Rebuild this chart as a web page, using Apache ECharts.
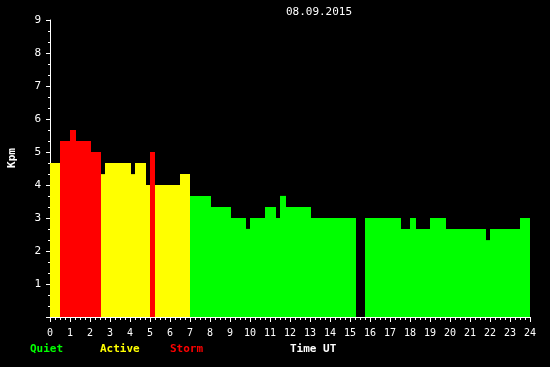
<!DOCTYPE html>
<html>
<head>
<meta charset="utf-8">
<script src="https://cdn.jsdelivr.net/npm/echarts@6/dist/echarts.min.js"></script>
<style>
html,body{margin:0;padding:0;background:#000;}
#c{width:550px;height:367px;}
</style>
</head>
<body>
<div id="c"></div>
<script>
// Kp segments (hours UT) and values
const segStart = [0, 0.5, 1.0, 1.3, 2.05, 2.55, 2.75, 4.05, 4.25, 4.8, 5.0, 5.25, 6.5,
  7.0, 8.05, 9.05, 9.8, 10.0, 10.75, 11.3, 11.5, 11.8, 13.05,
  15.75, 17.55, 18.0, 18.3, 19.0, 19.8, 21.8, 22.0, 23.5];
const segEnd = [0.5, 1.0, 1.3, 2.05, 2.55, 2.75, 4.05, 4.25, 4.8, 5.0, 5.25, 6.5, 7.0,
  8.05, 9.05, 9.8, 10.0, 10.75, 11.3, 11.5, 11.8, 13.05, 15.3,
  17.55, 18.0, 18.3, 19.0, 19.8, 21.8, 22.0, 23.5, 24.0];
const kpValues = [4.67, 5.33, 5.67, 5.33, 5.0, 4.33, 4.67, 4.33, 4.67, 4.0, 5.0, 4.0, 4.33,
  3.67, 3.33, 3.0, 2.67, 3.0, 3.33, 3.0, 3.67, 3.33, 3.0,
  3.0, 2.67, 3.0, 2.67, 3.0, 2.67, 2.33, 2.67, 3.0];
const titleText = '08.09.2015';
const legendNames = ['Quiet', 'Active', 'Storm'];
const legendColors = ['#00ff00', '#ffff00', '#ff0000'];

const data = segStart.map((s, i) => [s, segEnd[i], kpValues[i]]);
function kpColor(v) { return v >= 5 ? legendColors[2] : (v >= 4 ? legendColors[1] : legendColors[0]); }

const chart = echarts.init(document.getElementById('c'), null, {renderer: 'canvas'});
const mono = '"DejaVu Sans Mono", monospace';
chart.setOption({
  animation: false,
  backgroundColor: '#000',
  grid: {left: 50, right: 20, top: 20, bottom: 50},
  xAxis: {
    type: 'value', min: 0, max: 24, interval: 1,
    axisLine: {show: true, lineStyle: {color: '#fff', width: 1}},
    axisTick: {show: true, length: 5, lineStyle: {color: '#fff'}},
    minorTick: {show: true, splitNumber: 4, length: 3, lineStyle: {color: '#fff'}},
    splitLine: {show: false},
    axisLabel: {color: '#fff', fontFamily: mono, fontSize: 10, margin: 11}
  },
  yAxis: {
    type: 'value', min: 0, max: 9, interval: 1,
    axisLine: {show: true, lineStyle: {color: '#fff', width: 1}},
    axisTick: {show: true, length: 4, lineStyle: {color: '#fff'}},
    minorTick: {show: true, splitNumber: 3, length: 2, lineStyle: {color: '#fff'}},
    splitLine: {show: false},
    axisLabel: {color: '#fff', fontFamily: mono, fontSize: 11, margin: 9, showMinLabel: false}
  },
  series: [{
    type: 'custom',
    data: data,
    encode: {x: [0, 1], y: 2},
    renderItem: function (params, api) {
      const p0 = api.coord([api.value(0), api.value(2)]);
      const p1 = api.coord([api.value(1), 0]);
      return {
        type: 'rect',
        shape: {x: p0[0], y: p0[1], width: p1[0] - p0[0], height: p1[1] - p0[1]},
        style: {fill: kpColor(api.value(2))}
      };
    }
  }],
  graphic: [
    {type: 'text', x: 319, y: 12, style: {text: titleText, fill: '#fff', font: '11px ' + mono, textAlign: 'center', textVerticalAlign: 'middle'}},
    {type: 'text', x: 12, y: 158, rotation: Math.PI / 2, style: {text: 'Kpm', fill: '#fff', font: 'bold 11px ' + mono, textAlign: 'center', textVerticalAlign: 'middle'}},
    {type: 'text', x: 30, y: 349, style: {text: legendNames[0], fill: legendColors[0], font: 'bold 11px ' + mono, textVerticalAlign: 'middle'}},
    {type: 'text', x: 100, y: 349, style: {text: legendNames[1], fill: legendColors[1], font: 'bold 11px ' + mono, textVerticalAlign: 'middle'}},
    {type: 'text', x: 170, y: 349, style: {text: legendNames[2], fill: legendColors[2], font: 'bold 11px ' + mono, textVerticalAlign: 'middle'}},
    {type: 'text', x: 290, y: 349, style: {text: 'Time UT', fill: '#fff', font: 'bold 11px ' + mono, textVerticalAlign: 'middle'}}
  ]
});
</script>
</body>
</html>
